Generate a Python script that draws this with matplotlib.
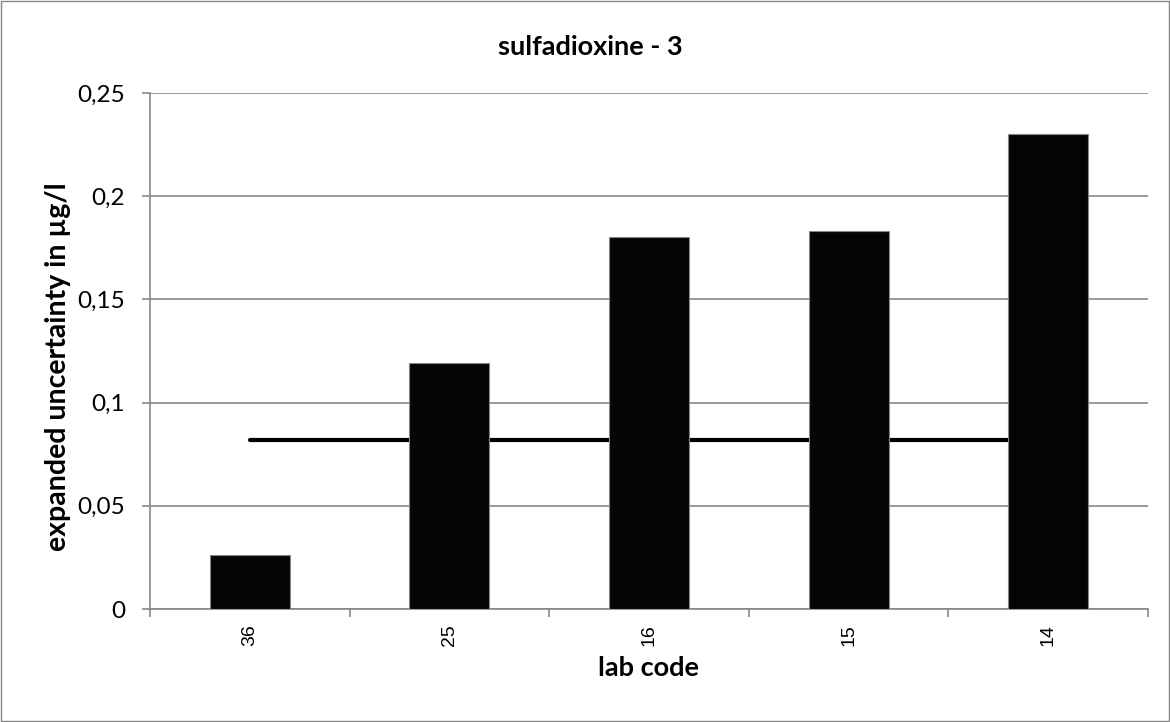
import numpy as np
import matplotlib
matplotlib.use('Agg')
import matplotlib.pyplot as plt
from matplotlib.patches import Rectangle

# data
lab_codes = ['36', '25', '16', '15', '14']
uncertainty = [0.026, 0.119, 0.180, 0.183, 0.230]
mean_uncertainty = [0.082, 0.082, 0.082, 0.082, 0.082]

grey = '#878787'
font = 'Lato'

fig = plt.figure(figsize=(11.7, 7.22), dpi=100)
ax = fig.add_axes([0.1282, 0.1565, 0.9812 - 0.1282, 0.8712 - 0.1565])

x = np.arange(len(lab_codes))
ax.bar(x, uncertainty, width=0.4, color='#050505', edgecolor=grey, linewidth=0.8, zorder=3)
ax.plot(x, mean_uncertainty, color='black', linewidth=3, solid_capstyle='round', zorder=2)

ax.set_xlim(-0.5, len(lab_codes) - 0.5)
ax.set_ylim(0, 0.25)
ax.set_yticks([0, 0.05, 0.1, 0.15, 0.2, 0.25])
ax.set_yticklabels(['0', '0,05', '0,1', '0,15', '0,2', '0,25'], fontfamily=font, fontsize=17.5)
ax.set_xticks(x)
ax.set_xticklabels(lab_codes, rotation=90, fontfamily='Liberation Sans', fontsize=14)
ax.set_xticks(np.arange(-0.5, len(lab_codes)), minor=True)
ax.tick_params(axis='x', which='major', length=0, pad=11)
ax.tick_params(axis='x', which='minor', length=6, color=grey, width=1.2)
ax.tick_params(axis='y', length=6, color=grey, width=1.2, pad=12)

ax.grid(axis='y', color=grey, linewidth=1.2, zorder=0)
ax.set_axisbelow(True)
for s in ['top', 'right']:
    ax.spines[s].set_visible(False)
for s in ['left', 'bottom']:
    ax.spines[s].set_color(grey)
    ax.spines[s].set_linewidth(1.2)

fig.text(590 / 1170, 1 - 47 / 722, 'sulfadioxine - 3', fontfamily=font, fontweight='bold',
         fontsize=19.5, ha='center', va='center')
ax.set_xlabel('lab code', fontfamily=font, fontweight='bold', fontsize=19.5, va='center')
ax.xaxis.set_label_coords(0.5, (609 - 668) / 516)
ax.set_ylabel('expanded uncertainty in µg/l', fontfamily=font, fontweight='bold', fontsize=20.5, va='center')
ax.yaxis.set_label_coords((58 - 150) / 998, (609 - 367) / 516)

fig.patches.append(Rectangle((0.001, 0.001), 0.998, 0.997, transform=fig.transFigure,
                             fill=False, edgecolor=grey, linewidth=1))

plt.savefig('out.png', dpi=100)
